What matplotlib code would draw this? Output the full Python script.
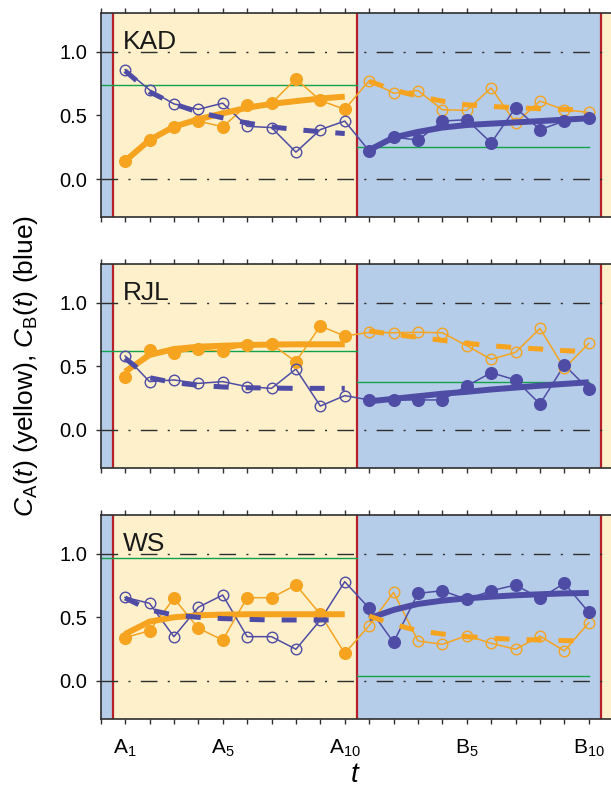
import numpy as np
import matplotlib
matplotlib.use("Agg")
import matplotlib.pyplot as plt

plt.rcParams['font.family'] = 'Liberation Sans'
plt.rcParams['mathtext.fontset'] = 'custom'
plt.rcParams['mathtext.rm'] = 'Liberation Sans'
plt.rcParams['mathtext.it'] = 'Liberation Sans:italic'

# --- DATA ---
STEP_LABELS = ['A$_{%d}$' % i for i in range(1, 11)] + ['B$_{%d}$' % i for i in range(1, 11)]
PARTICIPANTS = ['KAD', 'RJL', 'WS']

# C_A (yellow): filled in block A, open in block B
yellow_kad = [0.14, 0.305, 0.41, 0.455, 0.41, 0.58, 0.595, 0.787, 0.617, 0.547,
              0.773, 0.674, 0.695, 0.544, 0.539, 0.716, 0.44, 0.612, 0.544, 0.523]
yellow_rjl = [0.419, 0.628, 0.602, 0.636, 0.62, 0.668, 0.673, 0.537, 0.817, 0.738,
              0.767, 0.764, 0.767, 0.764, 0.662, 0.555, 0.61, 0.798, 0.484, 0.681]
yellow_ws = [0.34, 0.395, 0.649, 0.414, 0.322, 0.654, 0.654, 0.754, 0.524, 0.217,
             0.435, 0.696, 0.314, 0.288, 0.356, 0.296, 0.249, 0.353, 0.236, 0.458]

# C_B (blue): open in block A, filled in block B
blue_kad = [0.859, 0.70, 0.59, 0.547, 0.596, 0.414, 0.404, 0.211, 0.388, 0.455,
            0.221, 0.33, 0.305, 0.455, 0.466, 0.284, 0.56, 0.388, 0.455, 0.482]
blue_rjl = [0.581, 0.38, 0.393, 0.366, 0.38, 0.34, 0.327, 0.479, 0.188, 0.27,
            0.236, 0.236, 0.236, 0.236, 0.346, 0.45, 0.393, 0.204, 0.51, 0.319]
blue_ws = [0.657, 0.61, 0.348, 0.579, 0.675, 0.348, 0.348, 0.249, 0.479, 0.78,
           0.571, 0.304, 0.688, 0.709, 0.641, 0.709, 0.754, 0.649, 0.767, 0.539]

# fitted curves, read at each step
yfitA_kad = [0.141, 0.306, 0.411, 0.469, 0.516, 0.56, 0.59, 0.612, 0.632, 0.647]
bfitA_kad = [0.85, 0.685, 0.59, 0.525, 0.48, 0.44, 0.41, 0.388, 0.372, 0.357]
yfitB_kad = [0.768, 0.70, 0.65, 0.612, 0.583, 0.57, 0.56, 0.552, 0.547, 0.541]
bfitB_kad = [0.227, 0.326, 0.37, 0.404, 0.424, 0.435, 0.445, 0.455, 0.466, 0.477]

yfitA_rjl = [0.458, 0.589, 0.636, 0.654, 0.662, 0.668, 0.671, 0.673, 0.673, 0.673]
bfitA_rjl = [0.563, 0.411, 0.372, 0.351, 0.338, 0.332, 0.329, 0.327, 0.327, 0.327]
yfitB_rjl = [0.777, 0.751, 0.728, 0.704, 0.681, 0.662, 0.647, 0.636, 0.623, 0.615]
bfitB_rjl = [0.225, 0.245, 0.265, 0.285, 0.30, 0.318, 0.333, 0.348, 0.362, 0.375]

yfitA_ws = [0.369, 0.466, 0.50, 0.516, 0.521, 0.524, 0.524, 0.524, 0.524, 0.524]
bfitA_ws = [0.652, 0.558, 0.518, 0.50, 0.49, 0.484, 0.479, 0.479, 0.479, 0.479]
yfitB_ws = [0.51, 0.445, 0.395, 0.369, 0.348, 0.335, 0.327, 0.322, 0.317, 0.314]
bfitB_ws = [0.492, 0.558, 0.605, 0.631, 0.649, 0.662, 0.673, 0.681, 0.688, 0.691]

# green reference levels per block
greenA = [0.742, 0.623, 0.963]
greenB = [0.252, 0.374, 0.039]

# --- STYLE ---
YEL = '#F6A420'
BLU = '#4F4CA6'
CREAM = '#FDF0CB'
SKY = '#B5CDE8'
RED = '#B5202A'
GRN = '#12A24C'
INK = '#2E2E2E'

panels = [
    (yellow_kad, blue_kad, yfitA_kad, bfitA_kad, yfitB_kad, bfitB_kad),
    (yellow_rjl, blue_rjl, yfitA_rjl, bfitA_rjl, yfitB_rjl, bfitB_rjl),
    (yellow_ws, blue_ws, yfitA_ws, bfitA_ws, yfitB_ws, bfitB_ws),
]

steps = np.arange(1, len(STEP_LABELS) + 1)
sA, sB = steps[:10], steps[10:]

fig = plt.figure(figsize=(6.11, 7.89), dpi=100)
bottoms = [0.7247, 0.4066, 0.0885]

for k, name in enumerate(PARTICIPANTS):
    yel, blu, yfa, bfa, yfb, bfb = panels[k]
    yel = np.array(yel)
    blu = np.array(blu)
    ax = fig.add_axes([0.1648, bottoms[k], 0.8388, 0.2582])
    ax.set_xlim(0, 21)
    ax.set_ylim(-0.3, 1.3)

    # blocks
    ax.axvspan(0, 0.5, color=SKY, lw=0, zorder=0)
    ax.axvspan(0.5, 10.5, color=CREAM, lw=0, zorder=0)
    ax.axvspan(10.5, 20.5, color=SKY, lw=0, zorder=0)
    ax.axvspan(20.5, 21, color=CREAM, lw=0, zorder=0)
    for xv in [0.5, 10.5, 20.5]:
        ax.axvline(xv, color=RED, lw=1.6, zorder=1)
    for yv in [0, 1]:
        ax.axhline(yv, color=INK, lw=1.0, linestyle=(0, (12, 7.4, 1.5, 7.4)), zorder=1)

    ax.plot([0, 10.5], [greenA[k]] * 2, color=GRN, lw=1.0, zorder=2)
    ax.plot([10.5, 20], [greenB[k]] * 2, color=GRN, lw=1.0, zorder=2)

    # raw data
    ax.plot(steps, yel, '-', color=YEL, lw=1.1, zorder=3)
    ax.plot(steps, blu, '-', color=BLU, lw=1.1, zorder=3)
    ax.plot(sA, yel[:10], 'o', color=YEL, ms=8.4, zorder=4)
    ax.plot(sB, yel[10:], 'o', mfc='none', mec=YEL, mew=1.0, ms=7.6, zorder=4)
    ax.plot(sA, blu[:10], 'o', mfc='none', mec=BLU, mew=1.0, ms=7.6, zorder=4)
    ax.plot(sB, blu[10:], 'o', color=BLU, ms=8.4, zorder=4)

    # fits
    ax.plot(sA, yfa, '-', color=YEL, lw=4.3, solid_capstyle='butt', zorder=5)
    ax.plot(sA, bfa, color=BLU, lw=3.6, linestyle=(0, (3.0, 3.4)), zorder=6)
    ax.plot(sB, bfb, '-', color=BLU, lw=4.3, solid_capstyle='butt', zorder=5)
    ax.plot(sB, yfb, color=YEL, lw=3.6, linestyle=(0, (3.0, 3.4)), zorder=6)

    ax.text(0.92, 1.02, name, fontsize=19, color='#1a1a1a', ha='left', va='baseline', zorder=7)

    # axes cosmetics
    for side in ['top', 'bottom', 'left']:
        ax.spines[side].set_color(INK)
        ax.spines[side].set_linewidth(1.2)
    ax.spines['right'].set_visible(False)
    ax.set_yticks([0, 0.5, 1.0])
    ax.set_yticklabels(['0.0', '0.5', '1.0'])
    ax.set_xticks(np.arange(0, 22))
    if k == 2:
        lab = [''] * 22
        for s in [1, 5, 10, 15, 20]:
            lab[s] = STEP_LABELS[s - 1]
        ax.set_xticklabels(lab)
    else:
        ax.set_xticklabels([])
    ax.tick_params(axis='x', top=True, bottom=True, direction='out', length=3.5,
                   width=1, color=INK, labelsize=15, pad=10)
    ax.tick_params(axis='y', direction='out', length=3.5, width=1, color=INK,
                   labelsize=14.5, pad=6)

fig.text(0.042, 1 - 366 / 789, r'$C_\mathrm{A}(t)$ (yellow), $C_\mathrm{B}(t)$ (blue)',
         rotation=90, ha='center', va='center', fontsize=19)
fig.text(0.582, 0.018, r'$t$', ha='center', va='center', fontsize=20)

fig.savefig('out.png', dpi=100)
